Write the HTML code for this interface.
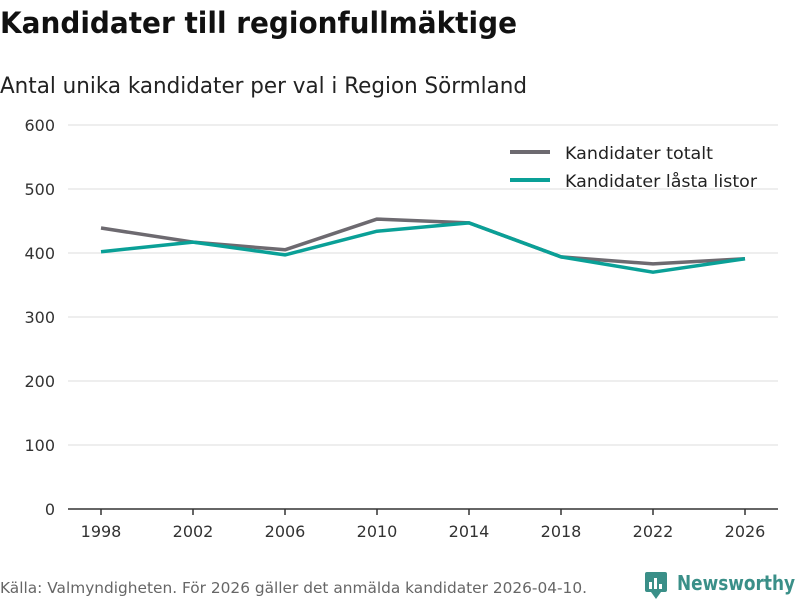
<!DOCTYPE html>
<html><head><meta charset="utf-8"><style>
body{margin:0;background:#fff;width:800px;height:600px;overflow:hidden;font-family:"DejaVu Sans","Liberation Sans",sans-serif}
</style></head><body>
<svg width="800" height="600" xmlns="http://www.w3.org/2000/svg">
<text x="0" y="33" font-size="29" font-weight="bold" fill="#111" textLength="517" lengthAdjust="spacingAndGlyphs">Kandidater till regionfullmäktige</text>
<text x="0" y="93" font-size="22" fill="#222" textLength="527" lengthAdjust="spacingAndGlyphs">Antal unika kandidater per val i Region Sörmland</text>
<g id="grid"></g><g id="xaxis"></g><g id="lines"></g>
<g>
<line x1="510" y1="152" x2="550" y2="152" stroke="#6d6a70" stroke-width="4"/>
<text x="565" y="159" font-size="17" fill="#222" textLength="148" lengthAdjust="spacingAndGlyphs">Kandidater totalt</text>
<line x1="510" y1="180" x2="550" y2="180" stroke="#0aa097" stroke-width="4"/>
<text x="565" y="187" font-size="17" fill="#222" textLength="192" lengthAdjust="spacingAndGlyphs">Kandidater låsta listor</text>
</g>
<text x="0" y="593" font-size="15" fill="#666" textLength="587" lengthAdjust="spacingAndGlyphs">Källa: Valmyndigheten. För 2026 gäller det anmälda kandidater 2026-04-10.</text>
<g>
<rect x="645" y="572" width="22" height="20" rx="2" fill="#3a8f88"/>
<polygon points="651,592 661,592 656,599" fill="#3a8f88"/>
<rect x="649" y="582" width="3" height="7" fill="#fff"/><rect x="654" y="578" width="3" height="11" fill="#fff"/><rect x="659" y="584" width="3" height="5" fill="#fff"/>
<text x="677" y="590" font-size="20" font-weight="bold" fill="#3a8f88" textLength="118" lengthAdjust="spacingAndGlyphs">Newsworthy</text>
</g>
</svg>
<script>
const years=[1998,2002,2006,2010,2014,2018,2022,2026];
const totalt=[439,417,405,453,447,394,383,391];
const lasta=[402,417,397,434,447,394,370,391];
const yTicks=[0,100,200,300,400,500,600];
const NS="http://www.w3.org/2000/svg";
const x=v=>101+(v-1998)*23;
const y=v=>509-v*0.64;
function mk(t,a,p){const e=document.createElementNS(NS,t);for(const k in a)e.setAttribute(k,a[k]);p.appendChild(e);return e;}
const g=document.getElementById('grid'),xa=document.getElementById('xaxis'),ln=document.getElementById('lines');
yTicks.forEach(t=>{
 if(t>0){const l=mk('line',{x1:68,x2:778,y1:y(t),y2:y(t),stroke:'#ddd','stroke-width':1},g);
 
 }
 const tx=mk('text',{x:55,y:y(t)+6,'font-size':16,fill:'#333','text-anchor':'end'},g);tx.textContent=t;
 
 
});
const ax=mk('line',{x1:68,x2:778,y1:509,y2:509,stroke:'#333','stroke-width':1.5},xa);


years.forEach(yr=>{
 mk('line',{x1:x(yr),x2:x(yr),y1:509,y2:515,stroke:'#333','stroke-width':1.5},xa);
 const t=mk('text',{x:x(yr),y:537,'font-size':16,fill:'#333','text-anchor':'middle'},xa);t.textContent=yr;
 
 
});
function line(d,c,n){const p=mk('polyline',{points:d.map((v,i)=>x(years[i])+','+y(v)).join(' '),fill:'none',stroke:c,'stroke-width':3.5,'stroke-linejoin':'round'},ln);
 
 }
line(totalt,'#6d6a70','line-totalt');
line(lasta,'#0aa097','line-lasta-listor');
</script>
</body></html>
